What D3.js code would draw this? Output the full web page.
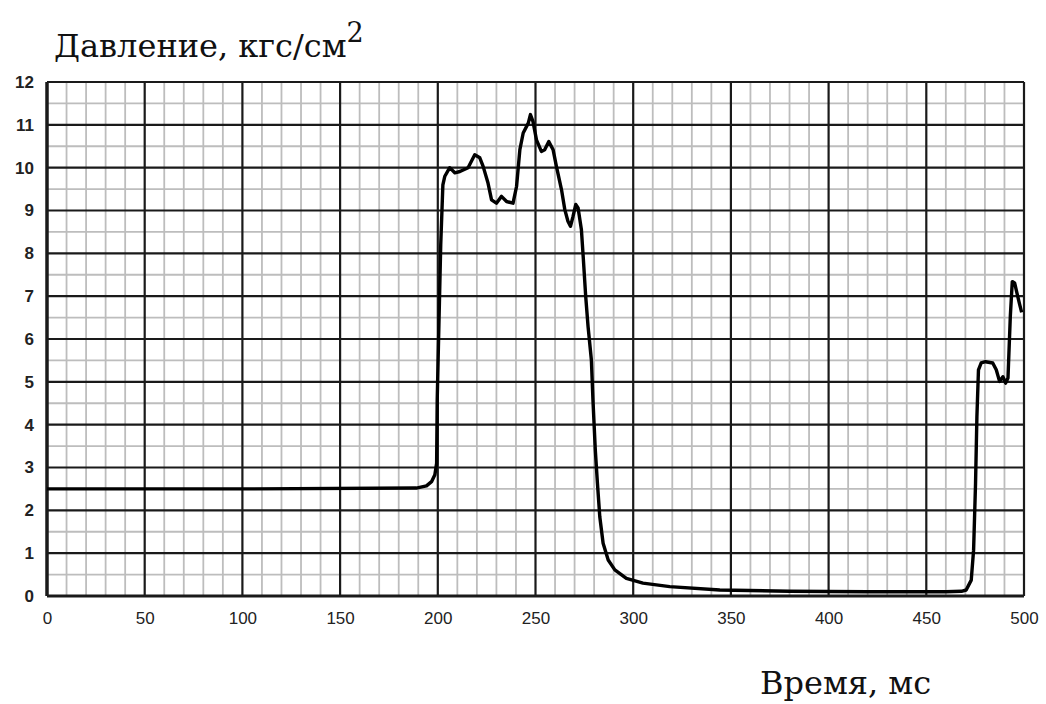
<!DOCTYPE html>
<html>
<head>
<meta charset="utf-8">
<script src="https://cdn.jsdelivr.net/npm/d3@7/dist/d3.min.js"></script>
<style>
  html, body { margin: 0; padding: 0; background: #fff; }
  svg { display: block; }
</style>
</head>
<body>
<div id="chart"></div>
<script>
// pressure trace (time in ms, pressure in kgf/cm2)
const timeMs = [
  0, 100, 189, 194.2, 196.8, 198.5, 199.4, 199.7, 201.5, 202.6, 203.6, 206.1, 208.7, 211.3,
  215.5, 218.9, 221.5, 223.2, 225.7, 227.5, 230, 232.6, 235.2, 238.5, 240.3,
  242, 243.7, 246.3, 247.4, 248.7, 250.5, 253, 254.7, 256.8, 259, 260.7,
  263.3, 265, 266.6, 267.9, 269.2, 270.6, 271.8, 273.5, 274.4, 275.7, 276.9,
  278.6, 279.4, 280.6, 281.7, 282.9, 284.6, 287.2, 290.6, 296.5, 305, 318.7,
  344.3, 380, 420, 460, 468, 470.4, 473, 474.2, 475.2, 475.9, 476.7, 478.1,
  480.3, 484, 485.8, 487.5, 489.2, 490.6, 491.8, 493, 494, 495.2, 496.4,
  497.8, 498.8
];
const pressure = [
  2.5, 2.5, 2.52, 2.57, 2.67, 2.83, 3.1, 4.58, 8.2, 9.6, 9.8, 10.0, 9.88, 9.91,
  10.0, 10.3, 10.23, 10.03, 9.64, 9.25, 9.17, 9.33, 9.21, 9.17, 9.56,
  10.42, 10.81, 11.04, 11.24, 11.08, 10.65, 10.38, 10.42, 10.61, 10.42, 10.03,
  9.49, 9.02, 8.75, 8.63, 8.86, 9.14, 9.06, 8.55, 7.93, 6.99, 6.29,
  5.51, 4.58, 3.41, 2.63, 1.85, 1.23, 0.84, 0.61, 0.41, 0.3, 0.22,
  0.14, 0.11, 0.1, 0.1, 0.11, 0.14, 0.37, 1.07, 2.63, 4.19, 5.28, 5.44,
  5.47, 5.44, 5.28, 5.01, 5.12, 4.97, 5.09, 6.53, 7.34, 7.31, 7.07,
  6.8, 6.62
];
const xTicks = [0, 50, 100, 150, 200, 250, 300, 350, 400, 450, 500];
const yTicks = [0, 1, 2, 3, 4, 5, 6, 7, 8, 9, 10, 11, 12];
const yTitle = "Давление, кгс/см";
const xTitle = "Время, мс";

const width = 1046, height = 704;
const plot = { left: 47, right: 1024, top: 82, bottom: 596 };

const svg = d3.select("#chart").append("svg")
  .attr("width", width)
  .attr("height", height);

const x = d3.scaleLinear().domain([0, 500]).range([plot.left, plot.right]);
const y = d3.scaleLinear().domain([0, 12]).range([plot.bottom, plot.top]);

// grid: light minor lines first, heavy lines on top
const grid = svg.append("g");
const minorX = d3.range(0, 501, 10).filter(v => v % 50 !== 0);
const minorY = d3.range(0.5, 12, 1);

grid.selectAll("line.mx").data(minorX).join("line")
  .attr("class", "mx")
  .attr("x1", d => x(d)).attr("x2", d => x(d))
  .attr("y1", plot.top).attr("y2", plot.bottom)
  .attr("stroke", "#bdbdbd").attr("stroke-width", 1.8);

grid.selectAll("line.my").data(minorY).join("line")
  .attr("class", "my")
  .attr("x1", plot.left).attr("x2", plot.right)
  .attr("y1", d => y(d)).attr("y2", d => y(d))
  .attr("stroke", "#bdbdbd").attr("stroke-width", 1.8);

grid.selectAll("line.Mx").data(xTicks).join("line")
  .attr("class", "Mx")
  .attr("x1", d => x(d)).attr("x2", d => x(d))
  .attr("y1", plot.top).attr("y2", plot.bottom)
  .attr("stroke", "#1a1a1a").attr("stroke-width", d => d === 0 ? 3.5 : 2.2);

grid.selectAll("line.My").data(yTicks).join("line")
  .attr("class", "My")
  .attr("x1", plot.left).attr("x2", plot.right)
  .attr("y1", d => y(d)).attr("y2", d => y(d))
  .attr("stroke", "#1a1a1a").attr("stroke-width", d => d === 0 ? 3 : 2.2);

// axes (labels only, grid draws the lines)
const xAxis = d3.axisBottom(x).tickValues(xTicks).tickSize(0).tickPadding(16);
svg.append("g")
  .attr("transform", `translate(0,${plot.bottom})`)
  .call(xAxis)
  .call(g => g.select(".domain").remove())
  .call(g => g.selectAll("text")
    .attr("font-family", "'Liberation Sans', Arial, sans-serif")
    .attr("font-size", 17).attr("fill", "#222"));

const yAxis = d3.axisLeft(y).tickValues(yTicks).tickSize(0).tickPadding(13);
svg.append("g")
  .attr("transform", `translate(${plot.left},0)`)
  .call(yAxis)
  .call(g => g.select(".domain").remove())
  .call(g => g.selectAll("text")
    .attr("font-family", "'Liberation Sans', Arial, sans-serif")
    .attr("font-weight", "bold")
    .attr("font-size", 17).attr("fill", "#222"));

// the trace
const pts = timeMs.map((t, i) => [t, pressure[i]]);
const line = d3.line().x(d => x(d[0])).y(d => y(d[1]));
svg.append("path")
  .datum(pts)
  .attr("d", line)
  .attr("fill", "none")
  .attr("stroke", "#000")
  .attr("stroke-width", 3.4)
  .attr("stroke-linejoin", "round");

// titles
const yt = svg.append("text")
  .attr("x", 54).attr("y", 57)
  .attr("font-family", "'DejaVu Serif', 'Liberation Serif', serif")
  .attr("font-size", 32)
  .attr("fill", "#111");
yt.append("tspan").text(yTitle);
yt.append("tspan").attr("dy", -15).attr("font-size", 27).text("2");

svg.append("text")
  .attr("x", 760).attr("y", 694)
  .attr("font-family", "'DejaVu Serif', 'Liberation Serif', serif")
  .attr("font-size", 32)
  .attr("fill", "#111")
  .text(xTitle);
</script>
</body>
</html>
